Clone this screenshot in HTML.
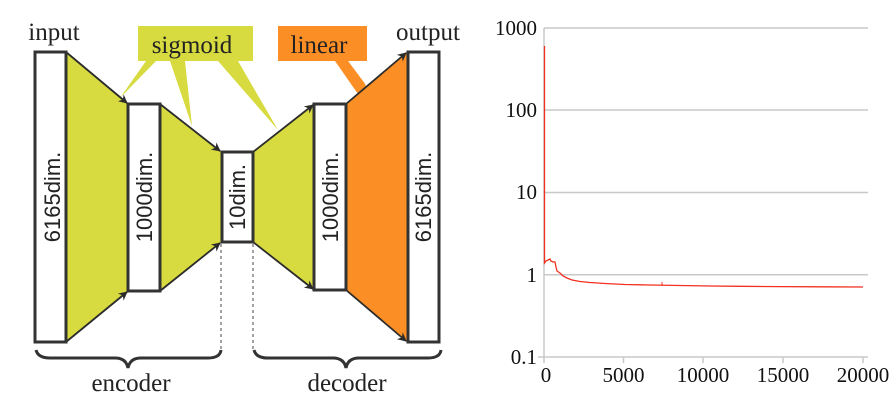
<!DOCTYPE html>
<html><head><meta charset="utf-8"><style>
html,body{margin:0;padding:0;background:#fff;width:896px;height:400px;overflow:hidden}
svg{display:block}
</style></head><body>
<svg width="896" height="400" viewBox="0 0 896 400" xmlns="http://www.w3.org/2000/svg">
<defs>
<marker id="ah" viewBox="0 0 10 10" refX="9" refY="5" markerWidth="5" markerHeight="5" orient="auto"><path d="M0,0 L10,5 L0,10 L3,5 z" fill="#2b2b2b"/></marker>
</defs>
<polygon points="138,26 253,26 253,61 238,61 278,130 218,61 185,61 192,126 170,61 156,61 120,98 146,61 138,61" fill="#d7db3f"/>
<polygon points="278,26 367,26 367,61 348,61 366,85 335,61 278,61" fill="#fb8f25"/>
<polygon points="335,61 348,61 366,86 358,94" fill="#fb8f25"/>
<polygon points="66,52 128,104 128,291 66,342" fill="#d7db3f"/>
<polygon points="160,104 221,152 221,242 160,291" fill="#d7db3f"/>
<polygon points="253,152 314,104 314,290 253,242" fill="#d7db3f"/>
<polygon points="346,104 407,52 407,342 346,290" fill="#fb8f25"/>
<g stroke="#2b2b2b" stroke-width="1.8" fill="none" marker-end="url(#ah)">
<line x1="66" y1="52" x2="127" y2="103"/>
<line x1="66" y1="342" x2="127" y2="292"/>
<line x1="160" y1="104" x2="220" y2="151"/>
<line x1="160" y1="291" x2="220" y2="243"/>
<line x1="253" y1="152" x2="313" y2="105"/>
<line x1="253" y1="242" x2="313" y2="289"/>
<line x1="346" y1="104" x2="406" y2="53"/>
<line x1="346" y1="290" x2="406" y2="341"/>
</g>
<g fill="#fff" stroke="#333" stroke-width="3">
<rect x="35" y="52" width="31" height="290"/>
<rect x="128" y="104" width="32" height="187"/>
<rect x="222" y="152" width="31" height="90"/>
<rect x="314" y="104" width="32" height="186"/>
<rect x="408" y="52" width="31" height="290"/>
</g>
<g font-family="Liberation Sans, sans-serif" font-size="22" fill="#222" text-anchor="middle">
<text transform="translate(60,197) rotate(-90)">6165dim.</text>
<text transform="translate(152,197) rotate(-90)">1000dim.</text>
<text transform="translate(245,197) rotate(-90)">10dim.</text>
<text transform="translate(338,197) rotate(-90)">1000dim.</text>
<text transform="translate(431,197) rotate(-90)">6165dim.</text>
</g>
<g stroke="#444" stroke-width="1" stroke-dasharray="3,3">
<line x1="221" y1="244" x2="221" y2="350"/>
<line x1="253" y1="244" x2="253" y2="350"/>
</g>
<g stroke="#333" stroke-width="3" fill="none">
<path d="M36,350 Q38,358 50,358 L115,358 Q126,358 128,368 Q130,358 141,358 L208,358 Q220,358 221,350"/>
<path d="M254,350 Q256,358 268,358 L333,358 Q344,358 346,368 Q348,358 359,358 L428,358 Q440,358 441,350"/>
</g>
<g font-family="Liberation Serif, serif" font-size="25" fill="#222" text-anchor="middle">
<text x="54" y="40">input</text>
<text x="428" y="40">output</text>
<text x="192" y="53">sigmoid</text>
<text x="319" y="53">linear</text>
<text x="131" y="391">encoder</text>
<text x="347" y="391">decoder</text>
</g>
<g stroke="#c8c8c8" stroke-width="1.5">
<line x1="544" y1="28" x2="868" y2="28"/>
<line x1="544" y1="110" x2="868" y2="110"/>
<line x1="544" y1="192.5" x2="868" y2="192.5"/>
<line x1="544" y1="274.7" x2="868" y2="274.7"/>
<line x1="538" y1="357" x2="868" y2="357"/>
<line x1="544" y1="28" x2="544" y2="363"/>
<line x1="623.5" y1="357" x2="623.5" y2="363"/>
<line x1="703" y1="357" x2="703" y2="363"/>
<line x1="783" y1="357" x2="783" y2="363"/>
<line x1="863" y1="357" x2="863" y2="363"/>
</g>
<polyline fill="none" stroke="#f23020" stroke-width="1.3" points="544.5,46 544.5,263 546,261 548,260 550,259 551,261 553,262 555,262 556,267 557,271 560,273 563,276 567,278 572,280 580,281.5 590,282.5 605,283.5 625,284.5 650,285 680,285.5 710,286 740,286.3 780,286.6 820,286.8 863,287"/>
<line x1="662" y1="282" x2="662" y2="286" stroke="#f23020" stroke-width="1"/>
<g font-family="Liberation Serif, serif" font-size="21" fill="#111">
<g text-anchor="end">
<text x="537" y="35">1000</text>
<text x="537" y="117">100</text>
<text x="537" y="199">10</text>
<text x="537" y="282">1</text>
<text x="537" y="364">0.1</text>
</g>
<g text-anchor="middle">
<text x="546" y="382">0</text>
<text x="623.5" y="382">5000</text>
<text x="703" y="382">10000</text>
<text x="783" y="382">15000</text>
<text x="863" y="382">20000</text>
</g>
</g>
</svg>
</body></html>
